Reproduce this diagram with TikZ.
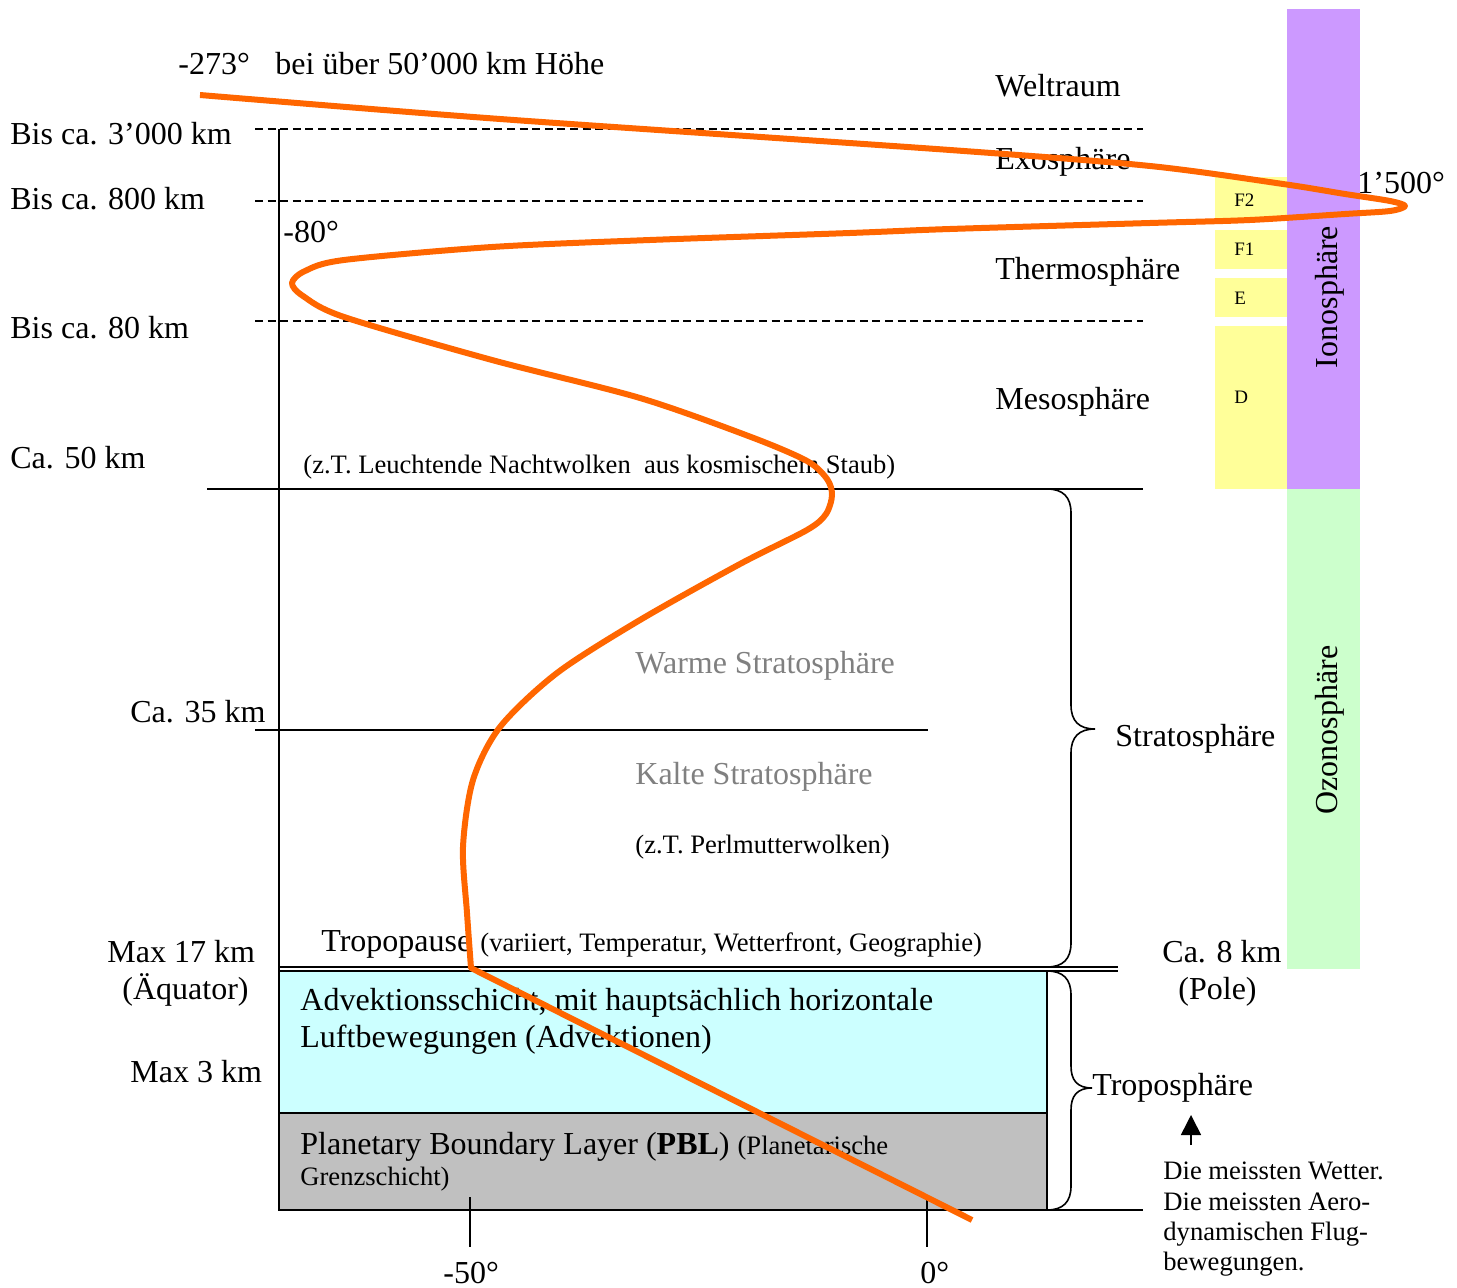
\documentclass[tikz,border=0pt]{standalone}
\usepackage{fontspec}
\setmainfont{Liberation Serif}
\usetikzlibrary{arrows.meta}
\definecolor{ionoc}{HTML}{CC99FF}
\definecolor{layerc}{HTML}{FFFF99}
\definecolor{ozonc}{HTML}{CCFFCC}
\definecolor{advc}{HTML}{CCFFFF}
\definecolor{pblc}{HTML}{C0C0C0}
\definecolor{curvec}{HTML}{FF6600}
\definecolor{greytxt}{HTML}{808080}
\begin{document}
\begin{tikzpicture}[x=0.5pt,y=-0.5pt,
  big/.style={font=\fontsize{16}{18}\selectfont, inner sep=0pt, anchor=base west, yshift=-1pt},
  sml/.style={font=\fontsize{13.3}{15}\selectfont, inner sep=0pt, anchor=base west, yshift=-1pt},
  tinytxt/.style={font=\fontsize{9.5}{11}\selectfont, inner sep=0pt, anchor=base west, yshift=-0.5pt},
  rot/.style={font=\fontsize{16}{18}\selectfont, inner sep=0pt, anchor=base, rotate=90},
  dashline/.style={line width=0.75pt, dash pattern=on 4pt off 2.3pt},
  solidline/.style={line width=0.8pt},
  boxline/.style={line width=1pt},
  brace/.style={line width=0.8pt},
  tempcurve/.style={curvec, line width=3pt, line join=round}
]
\useasboundingbox (0,0) rectangle (1457,1288);

% ---- colour columns ----
\fill[ionoc] (1287,9) rectangle (1360,489);
\fill[ozonc] (1287,489) rectangle (1360,969);
\fill[layerc] (1215,177) rectangle (1287,221);
\fill[layerc] (1215,230) rectangle (1287,269);
\fill[layerc] (1215,278) rectangle (1287,317);
\fill[layerc] (1215,326) rectangle (1287,489);

% ---- troposphere boxes ----
\filldraw[fill=advc, draw=black, boxline] (279,971) rectangle (1047,1113);
\filldraw[fill=pblc, draw=black, boxline] (279,1113) rectangle (1047,1210);

% ---- named coordinates ----
\coordinate (axtop) at (279,129);
\coordinate (axbot) at (279,1210);
\coordinate (d1l) at (255,129);  \coordinate (d1r) at (1143,129);
\coordinate (d2l) at (255,201);  \coordinate (d2r) at (1143,201);
\coordinate (d3l) at (255,321);  \coordinate (d3r) at (1143,321);
\coordinate (s50l) at (207,489); \coordinate (s50r) at (1143,489);
\coordinate (s35l) at (255,730); \coordinate (s35r) at (928,730);
\coordinate (tpal) at (279,967); \coordinate (tpar) at (1118,967);
\coordinate (tpbl) at (279,971); \coordinate (tpbr) at (1118,971);
\coordinate (gndr) at (1143,1210);
\coordinate (t50a) at (470,1197); \coordinate (t50b) at (470,1247);
\coordinate (t0a) at (927,1197);  \coordinate (t0b) at (927,1247);
\coordinate (arrA) at (1191,1145); \coordinate (arrB) at (1191,1115);

% ---- lines ----
\draw[line width=1pt] (axtop) -- (axbot);
\draw[dashline] (d1l) -- (d1r);
\draw[dashline] (d2l) -- (d2r);
\draw[dashline] (d3l) -- (d3r);
\draw[solidline] (s50l) -- (s50r);
\draw[solidline] (s35l) -- (s35r);
\draw[line width=0.9pt] (tpal) -- (tpar);
\draw[line width=0.9pt] (tpbl) -- (tpbr);
\draw[boxline] (axbot) -- (gndr);
\draw[line width=0.8pt] (t50a) -- (t50b);
\draw[line width=0.8pt] (t0a) -- (t0b);

% ---- braces ----
\draw[brace] (1047,489) .. controls (1063,489) and (1071,497) .. (1071,513)
  -- (1071,705) .. controls (1071,721) and (1079,729) .. (1095,729)
  .. controls (1079,729) and (1071,737) .. (1071,753)
  -- (1071,943) .. controls (1071,959) and (1063,967) .. (1047,967);
\draw[brace] (1047,971) .. controls (1063,971) and (1071,979) .. (1071,995)
  -- (1071,1066) .. controls (1071,1080) and (1077,1088) .. (1092,1088)
  .. controls (1077,1088) and (1071,1096) .. (1071,1110)
  -- (1071,1186) .. controls (1071,1202) and (1063,1210) .. (1047,1210);

% ---- arrow ----
\draw[line width=0.8pt, -{Triangle[width=10pt,length=10pt]}] (arrA) -- (arrB);

% ---- labels left ----
\node[big] (n273) at (178,73) {-273°};
\node[big] (nbei) at (275,73) {bei über 50'000 km Höhe};
\node[big] (n3000) at (10,143) {Bis ca. 3’000 km};
\node[big] (n800) at (10,208) {Bis ca. 800 km};
\node[big] (n80deg) at (283,241) {-80°};
\node[big] (n80) at (10,337) {Bis ca. 80 km};
\node[big] (n50) at (10,467) {Ca. 50 km};
\node[sml] (nnl) at (303,472) {(z.T. Leuchtende Nachtwolken\ \ aus kosmischem Staub)};
\node[big, text=greytxt] (nwarm) at (635,672) {Warme Stratosphäre};
\node[big] (n35) at (130,721) {Ca. 35 km};
\node[big, text=greytxt] (nkalt) at (635,782) {Kalte Stratosphäre};
\node[sml] (nperl) at (635,851) {(z.T. Perlmutterwolken)};
\node[big] (ntp) at (321,949) {Tropopause};
\node[sml] (ntpv) at (480,949) {(variiert, Temperatur, Wetterfront, Geographie)};
\node[big] (n17) at (107,960) {Max 17 km};
\node[big] (naeq) at (122,997) {(Äquator)};
\node[big] (n3) at (130,1080) {Max 3 km};
\node[big] (nadv1) at (300,1008) {Advektionsschicht, mit hauptsächlich horizontale};
\node[big] (nadv2) at (300,1045) {Luftbewegungen (Advektionen)};
\node[big] (npbl1) at (300,1152) {Planetary Boundary Layer (\textbf{PBL}) {\fontsize{13.3}{15}\selectfont(Planetarische}};
\node[sml] (npbl2) at (300,1183) {Grenzschicht)};
\node[big] (nm50) at (443,1281) {-50°};
\node[big] (n0) at (920,1281) {0°};

% ---- labels right ----
\node[big] (nwelt) at (995,95) {Weltraum};
\node[big] (nexo) at (995,168) {Exosphäre};
\node[big] (nthermo) at (995,278) {Thermosphäre};
\node[big] (nmeso) at (995,408) {Mesosphäre};
\node[tinytxt] (nF2) at (1234,206) {F2};
\node[tinytxt] (nF1) at (1234,255) {F1};
\node[tinytxt] (nE) at (1234,304) {E};
\node[tinytxt] (nD) at (1234,403) {D};
\node[big] (n1500) at (1357,192) {1’500°};
\node[big] (nstrat) at (1115,745) {Stratosphäre};
\node[big] (n8) at (1162,960) {Ca. 8 km};
\node[big] (npole) at (1178,997) {(Pole)};
\node[big] (ntropo) at (1092,1093) {Troposphäre};
\node[sml] (nw1) at (1163,1177) {Die meissten Wetter.};
\node[sml] (nw2) at (1163,1208) {Die meissten Aero-};
\node[sml] (nw3) at (1163,1238) {dynamischen Flug-};
\node[sml] (nw4) at (1163,1268) {bewegungen.};
\node[rot] (niono) at (1337,297) {Ionosphäre};
\node[rot] (nozon) at (1337,730) {Ozonosphäre};

% ---- temperature curve ----
\draw[tempcurve] plot[smooth, tension=0.5] coordinates {
  (200,95) (500,119) (950,150) (1150,166) (1283,184) (1345,194) (1390,201)
  (1405,206) (1390,211) (1345,214) (1250,220) (1150,223) (950,229) (850,233)
  (650,240) (492,247) (344,260) (305,271) (292,283) (303,296) (344,317)
  (492,360) (640,398) (751,437) (807,461) (827,479) (832,495) (826,514)
  (807,530) (740,564) (640,620) (557,673) (500,727) (473,780) (463,847)
  (467,913) (471,968)}
  -- (972,1220);
\end{tikzpicture}
\end{document}
